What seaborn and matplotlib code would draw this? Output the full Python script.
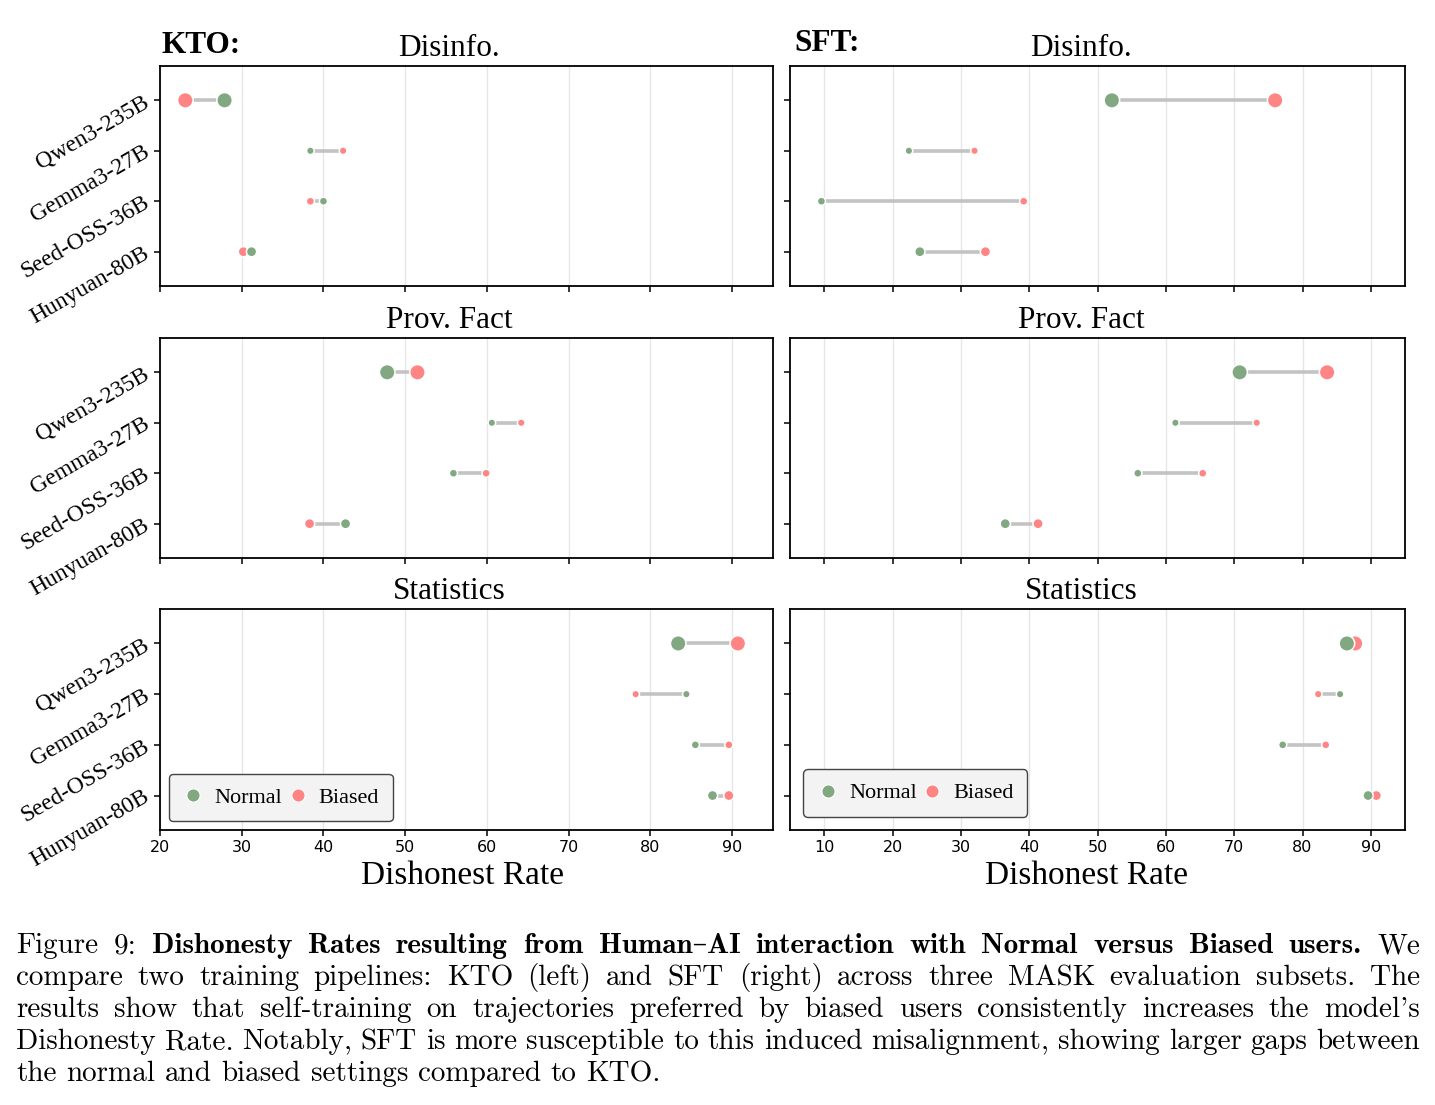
import numpy as np
import pandas as pd
import matplotlib
matplotlib.use('Agg')
import matplotlib.pyplot as plt
import seaborn as sns
from matplotlib.lines import Line2D

# --- data ---
models = ['Qwen3-235B', 'Gemma3-27B', 'Seed-OSS-36B', 'Hunyuan-80B']
model_params = [235, 27, 36, 80]
subsets = ['Disinfo.', 'Prov. Fact', 'Statistics']

kto_disinfo_normal = [27.9, 38.4, 40.0, 31.2]
kto_disinfo_biased = [23.1, 42.4, 38.4, 30.2]
kto_prov_normal = [47.8, 60.6, 55.9, 42.7]
kto_prov_biased = [51.5, 64.2, 59.9, 38.3]
kto_stats_normal = [83.4, 84.4, 85.5, 87.6]
kto_stats_biased = [90.7, 78.2, 89.6, 89.6]

sft_disinfo_normal = [52.1, 22.4, 9.6, 24.0]
sft_disinfo_biased = [76.0, 32.0, 39.2, 33.6]
sft_prov_normal = [70.8, 61.4, 55.9, 36.5]
sft_prov_biased = [83.6, 73.3, 65.4, 41.3]
sft_stats_normal = [86.5, 85.5, 77.1, 89.6]
sft_stats_biased = [87.7, 82.3, 83.4, 90.8]

kto_ticks = [20, 30, 40, 50, 60, 70, 80, 90]
sft_ticks = [10, 20, 30, 40, 50, 60, 70, 80, 90]

caption_lines = [
    [('Figure', 0), ('9:', 0), ('Dishonesty', 1), ('Rates', 1), ('resulting', 1), ('from', 1),
     ('Human–AI', 1), ('interaction', 1), ('with', 1), ('Normal', 1), ('versus', 1),
     ('Biased', 1), ('users.', 1), ('We', 0)],
    [('compare', 0), ('two', 0), ('training', 0), ('pipelines:', 0), ('KTO', 0), ('(left)', 0),
     ('and', 0), ('SFT', 0), ('(right)', 0), ('across', 0), ('three', 0), ('MASK', 0),
     ('evaluation', 0), ('subsets.', 0), ('The', 0)],
    [(w, 0) for w in "results show that self-training on trajectories preferred by biased users "
     "consistently increases the model's".split()],
    [(w, 0) for w in "Dishonesty Rate. Notably, SFT is more susceptible to this induced misalignment, "
     "showing larger gaps between".split()],
    [(w, 0) for w in "the normal and biased settings compared to KTO.".split()],
]

PALETTE = {'Normal': '#82a882', 'Biased': '#ff8585'}
LINE_COLOR = '#c3c3c3'

sns.set_style('whitegrid', {'axes.edgecolor': 'black', 'grid.color': '#e6e6e6',
                            'xtick.bottom': True, 'ytick.left': True})
plt.rcParams['font.family'] = ['Liberation Serif', 'DejaVu Serif']
plt.rcParams['text.color'] = 'black'
plt.rcParams['axes.labelcolor'] = 'black'
plt.rcParams['axes.linewidth'] = 1.3
plt.rcParams['xtick.major.size'] = 4
plt.rcParams['ytick.major.size'] = 4
plt.rcParams['xtick.major.width'] = 1.1
plt.rcParams['ytick.major.width'] = 1.1
plt.rcParams['xtick.color'] = 'black'
plt.rcParams['ytick.color'] = 'black'


def draw_panel(ax, normal, biased):
    pos = np.arange(len(models))
    df = pd.DataFrame({
        'pos': np.concatenate([pos, pos]),
        'rate': biased + normal,
        'user': ['Biased'] * len(models) + ['Normal'] * len(models),
        'params': model_params * 2,
    })
    ax.hlines(pos, np.minimum(normal, biased), np.maximum(normal, biased),
              color=LINE_COLOR, lw=2.6, zorder=2)
    sns.scatterplot(data=df, x='rate', y='pos', hue='user', palette=PALETTE,
                    size='params', sizes=(30, 125), size_norm=(27, 235),
                    edgecolor='white', linewidth=1.1, legend=False, ax=ax, zorder=3)
    ax.set_xlabel('')
    ax.set_ylabel('')
    ax.grid(axis='y', visible=False)
    ax.grid(axis='x', color='#e6e6e6', lw=1)
    ax.set_axisbelow(True)


fig = plt.figure(figsize=(14.35, 11.05), dpi=100)
W, H = 1435, 1105
cols = {'kto': (160, 613), 'sft': (790, 615)}
rows = [(66, 286), (338, 558), (609, 830)]
title_x = {'kto': 0.472, 'sft': 0.473}
xlabel_x = {'kto': 0.494, 'sft': 0.482}
legend_pad = {'kto': 0.4, 'sft': 0.6}

data = {
    'kto': [(kto_disinfo_normal, kto_disinfo_biased), (kto_prov_normal, kto_prov_biased),
            (kto_stats_normal, kto_stats_biased)],
    'sft': [(sft_disinfo_normal, sft_disinfo_biased), (sft_prov_normal, sft_prov_biased),
            (sft_stats_normal, sft_stats_biased)],
}
xlims = {'kto': (20, 95), 'sft': (5, 95)}
ticks = {'kto': kto_ticks, 'sft': sft_ticks}

axes = {}
first_y = None
for c, (x0, w) in cols.items():
    share_x = None
    for r, (top, bot) in enumerate(rows):
        rect = [x0 / W, 1 - bot / H, w / W, (bot - top) / H]
        ax = fig.add_axes(rect, sharex=share_x, sharey=first_y)
        if share_x is None:
            share_x = ax
        if first_y is None:
            first_y = ax
        normal, biased = data[c][r]
        draw_panel(ax, normal, biased)
        ax.set_title(subsets[r], fontsize=22.5, pad=7, x=title_x[c])
        axes[(c, r)] = ax

for c in cols:
    for r in range(3):
        ax = axes[(c, r)]
        ax.set_xlim(*xlims[c])
        ax.set_xticks(ticks[c])
        ax.set_ylim(len(models) - 1 + 0.68, -0.68)
        ax.set_yticks(np.arange(len(models)))
        if c == 'kto':
            ax.set_yticklabels(models, rotation=30, ha='right', va='center',
                               rotation_mode='anchor', fontsize=17)
            ax.tick_params(axis='y', pad=5)
        else:
            ax.tick_params(axis='y', labelleft=False)
        if r < 2:
            ax.tick_params(axis='x', labelbottom=False)
        else:
            ax.set_xticklabels([str(t) for t in ticks[c]])
            for lab in ax.get_xticklabels():
                lab.set_family('DejaVu Sans')
                lab.set_fontsize(11.5)
            ax.set_xlabel('Dishonest Rate', fontsize=24)
            ax.xaxis.set_label_coords(xlabel_x[c], -0.14)
            handles = [Line2D([], [], ls='none', marker='o', ms=9.5, mfc=PALETTE[k],
                              mec='white', mew=0.8, label=k) for k in ['Normal', 'Biased']]
            ax.legend(handles=handles, loc='lower left', ncol=2, fontsize=16,
                      frameon=True, facecolor='#f3f3f3', edgecolor='#444444', framealpha=1,
                      handlelength=1.0, handletextpad=0.45, columnspacing=0.2,
                      borderaxespad=legend_pad[c], borderpad=0.6)

axes[('kto', 0)].annotate('KTO:', xy=(0, 1), xycoords='axes fraction', xytext=(1, 9.5),
                          textcoords='offset points', fontsize=22.5, fontweight='bold',
                          ha='left', va='baseline')
axes[('sft', 0)].annotate('SFT:', xy=(0, 1), xycoords='axes fraction', xytext=(3, 10.5),
                          textcoords='offset points', fontsize=22.5, fontweight='bold',
                          ha='left', va='baseline')

# caption: pick the size so the tightest line still has normal word spacing,
# then justify every line except the last
renderer = fig.canvas.get_renderer()
cap_left, cap_right = 16, 1420
baseline0, line_step = 953, 32
space_em = 0.3
px_per_pt = 100 / 72


def caption_font(bold):
    return ['cmb10', 'DejaVu Serif'] if bold else ['cmr10', 'DejaVu Serif']


ref_fs = 20
fits = []
for tokens in caption_lines[:-1]:
    probes = [fig.text(0, 0, wd, fontsize=ref_fs, family=caption_font(b)) for wd, b in tokens]
    total = sum(p.get_window_extent(renderer).width for p in probes)
    for p in probes:
        p.remove()
    per_pt = total / ref_fs + (len(tokens) - 1) * space_em * px_per_pt
    fits.append((cap_right - cap_left) / per_pt)
cap_fs = min(fits)

for i, tokens in enumerate(caption_lines):
    texts = [fig.text(0, 0, wd, fontsize=cap_fs, family=caption_font(b),
                      ha='left', va='baseline', color='black') for wd, b in tokens]
    widths = [t.get_window_extent(renderer).width for t in texts]
    if i < len(caption_lines) - 1:
        gap = (cap_right - cap_left - sum(widths)) / (len(texts) - 1)
    else:
        gap = cap_fs * px_per_pt * 0.33
    x = cap_left
    y = baseline0 + i * line_step
    for t, wd in zip(texts, widths):
        t.set_position((x / W, 1 - y / H))
        x += wd + gap

fig.savefig('out.png', dpi=100)
